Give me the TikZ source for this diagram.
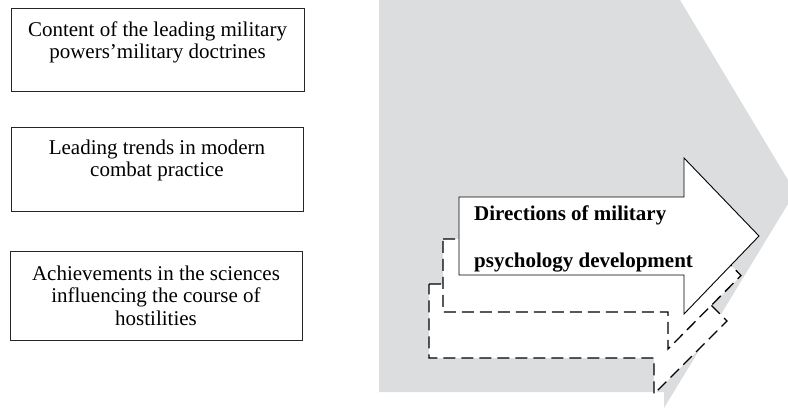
\documentclass[tikz,border=0pt]{standalone}
\usepackage{fontspec}
\setmainfont{Liberation Serif}
\definecolor{bggray}{RGB}{220,221,223}
\begin{document}
\begin{tikzpicture}[x=1pt,y=-1pt,
  srcbox/.style={draw=black!85, line width=0.9pt, anchor=north west, inner sep=0pt},
  boxtext/.style={anchor=north, align=center, inner sep=0pt, font=\fontsize{21}{22.5}\selectfont},
  arrowtext/.style={anchor=north west, align=left, inner sep=0pt, font=\fontsize{21}{46.5}\selectfont\bfseries},
  arrowshape/.style={fill=white, draw=black, line width=0.9pt, line join=miter},
  dasharrow/.style={arrowshape, line width=1.3pt, dash pattern=on 12pt off 6pt}]
\useasboundingbox (0,0) rectangle (788,409);

% gray background chevron
\fill[bggray] (379,0) -- (680,0) -- (788,180) -- (788,204) -- (664,408) -- (664,392) -- (379,392) -- cycle;

% left source boxes
\node[srcbox, minimum width=293pt, minimum height=83.5pt] (b1) at (11,8) {};
\node[boxtext] (t1) at (157.5,21) {\rule{0pt}{15pt}Content of the leading military\\powers’military doctrines};

\node[srcbox, minimum width=292pt, minimum height=84pt] (b2) at (11,127) {};
\node[boxtext] (t2) at (157,139) {\rule{0pt}{15pt}Leading trends in modern\\combat practice};

\node[srcbox, minimum width=292pt, minimum height=88pt] (b3) at (10,251.5) {};
\node[boxtext] (t3) at (156,265) {\rule{0pt}{15pt}Achievements in the sciences\\influencing the course of\\hostilities};

% stacked arrows (back to front)
\draw[dasharrow] (429,284) -- (654,284) -- (654,248) -- (727,321) -- (654,394) -- (654,358) -- (429,358) -- cycle;
\draw[dasharrow] (443,239) -- (668,239) -- (668,201) -- (741,275.5) -- (668,349) -- (668,312) -- (443,312) -- cycle;
\draw[arrowshape] (459,197) -- (684,197) -- (684,158) -- (759,236) -- (684,314) -- (684,275) -- (459,275) -- cycle;

\node[arrowtext] (dir) at (474,205.7) {\rule{0pt}{15pt}Directions of military\\psychology development};
\end{tikzpicture}
\end{document}
